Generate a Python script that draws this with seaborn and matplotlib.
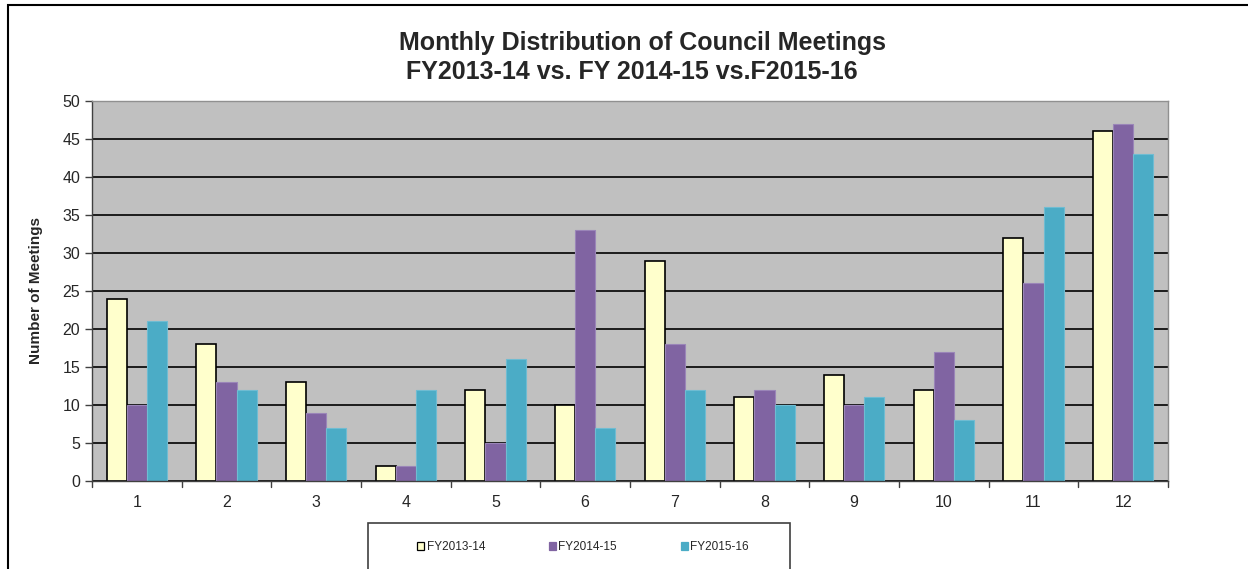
import pandas as pd
import seaborn as sns
import matplotlib.pyplot as plt
from matplotlib.patches import Rectangle

# Monthly meeting counts
months = [1, 2, 3, 4, 5, 6, 7, 8, 9, 10, 11, 12]
fy1314 = [24, 18, 13, 2, 12, 10, 29, 11, 14, 12, 32, 46]
fy1415 = [10, 13, 9, 2, 5, 33, 18, 12, 10, 17, 26, 47]
fy1516 = [21, 12, 7, 12, 16, 7, 12, 10, 11, 8, 36, 43]
series = ['FY2013-14', 'FY2014-15', 'FY2015-16']
colors = ['#FFFFCC', '#8064A2', '#4BACC6']
edges = ['#000000', '#9A85B8', '#6FBCD2']

df = pd.DataFrame({'month': months, series[0]: fy1314, series[1]: fy1415, series[2]: fy1516})
long_df = df.melt(id_vars='month', var_name='series', value_name='meetings')

sns.set_style('white')
plt.rcParams['font.family'] = ['Liberation Sans', 'DejaVu Sans']

fig = plt.figure(figsize=(12.48, 5.69), dpi=100)
ax = fig.add_axes([92 / 1248, 1 - 481 / 569, (1168 - 92) / 1248, (481 - 101) / 569])

sns.barplot(data=long_df, x='month', y='meetings', hue='series', palette=colors,
            width=0.67, saturation=1, ax=ax, legend=True)

# edge colours per series
for cont, ec in zip(ax.containers, edges):
    for bar in cont:
        bar.set_edgecolor(ec)
        bar.set_linewidth(1.2 if ec == '#000000' else 0.8)

ax.set_facecolor('#C0C0C0')
ax.set_ylim(0, 50)
ax.set_yticks(range(0, 51, 5))
ax.set_xlim(-0.5, 11.5)
ax.yaxis.grid(True, color='black', linewidth=1.2)
ax.set_axisbelow(True)

# tick marks between categories on the x axis
ax.set_xticks(range(12))
ax.set_xticklabels([str(m) for m in months])
ax.tick_params(axis='x', length=0, labelsize=11.5, pad=10)
for xb in [i - 0.5 for i in range(13)]:
    ax.plot([xb, xb], [0, -0.015], transform=ax.get_xaxis_transform(), color='#404040',
            linewidth=1, clip_on=False)
ax.tick_params(axis='y', length=5, width=1, color='#404040', labelsize=11.5, direction='out', left=True)

for side in ['top', 'right']:
    ax.spines[side].set_color('#909090')
for side in ['left', 'bottom']:
    ax.spines[side].set_color('#404040')
for s in ax.spines.values():
    s.set_linewidth(1)

ax.set_xlabel('')
ax.set_ylabel('Number of Meetings', fontsize=11, fontweight='bold', labelpad=14)

fig.text(643 / 1248, 1 - 43 / 569, 'Monthly Distribution of Council Meetings',
         ha='center', va='center', fontsize=18, fontweight='bold')
fig.text(632 / 1248, 1 - 72 / 569, 'FY2013-14 vs. FY 2014-15 vs.F2015-16',
         ha='center', va='center', fontsize=18, fontweight='bold')

handles, labels = ax.get_legend_handles_labels()
ax.legend_.remove()
leg = fig.legend(handles, labels, loc='center', bbox_to_anchor=(583 / 1248, 1 - 547 / 569),
                 ncol=3, frameon=False, fontsize=8.5, columnspacing=5.4,
                 handlelength=0.6, handleheight=0.6, handletextpad=0.2)
for h, ec in zip(leg.legend_handles, ['#000000', '#8064A2', '#4BACC6']):
    h.set_edgecolor(ec)
    h.set_linewidth(0.9)

# legend box
fig.patches.append(Rectangle((368 / 1248, -0.05), (790 - 368) / 1248, 0.05 + 46 / 569,
                             transform=fig.transFigure, fill=False, edgecolor='#404040', linewidth=1.2))

# outer chart border
fig.patches.append(Rectangle((8 / 1248, -0.1), 1.2, 1 - 5 / 569 + 0.1, transform=fig.transFigure,
                             fill=False, edgecolor='black', linewidth=1.5))

fig.savefig('out.png', dpi=100)
